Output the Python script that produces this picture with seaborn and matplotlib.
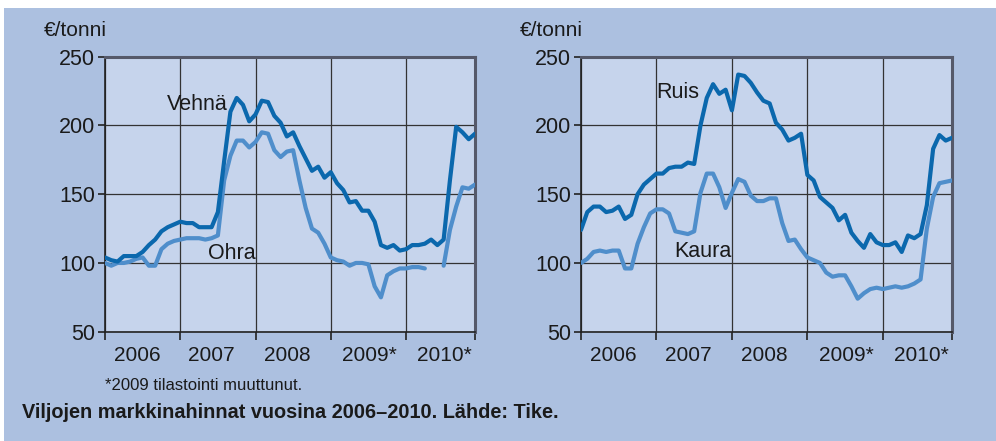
import numpy as np
import pandas as pd
import matplotlib
matplotlib.use("Agg")
import matplotlib.pyplot as plt
import seaborn as sns

# ---- data (monthly, Jan 2006 = 0) ----
months = list(range(60))
vehna = [104, 102, 101, 105, 105, 105, 108, 113, 117, 123, 126, 128, 130, 129, 129, 126, 126, 126,
         137, 174, 210, 220, 215, 203, 208, 218, 217, 207, 202, 192, 195, 185, 176, 167, 170, 162,
         166, 158, 153, 144, 145, 138, 138, 130, 113, 111, 113, 109, 110, 113, 113, 114, 117, 113,
         117, 160, 199, 195, 190, 194]
ohra = [100, 98, 100, 100, 101, 103, 104, 98, 98, 110, 114, 116, 117, 118, 118, 118, 117, 118,
        120, 160, 178, 189, 189, 184, 188, 195, 194, 182, 177, 181, 182, 160, 140, 125, 122, 114,
        104, 102, 101, 98, 100, 100, 99, 83, 75, 91, 94, 96, 96, 97, 97, 96, np.nan, np.nan,
        98, 124, 141, 155, 154, 157]
ruis = [124, 137, 141, 141, 137, 138, 141, 132, 135, 150, 157, 161, 165, 165, 169, 170, 170, 173,
        172, 200, 220, 230, 223, 226, 211, 237, 236, 231, 224, 218, 216, 202, 197, 189, 191, 194,
        164, 160, 148, 144, 140, 131, 135, 122, 116, 111, 121, 115, 113, 113, 115, 108, 120, 118,
        121, 142, 183, 193, 189, 191]
kaura = [100, 103, 108, 109, 108, 109, 109, 96, 96, 114, 126, 136, 139, 139, 136, 123, 122, 121,
         123, 151, 165, 165, 155, 140, 151, 161, 159, 149, 145, 145, 147, 147, 129, 116, 117, 110,
         104, 102, 100, 93, 90, 91, 91, 83, 74, 78, 81, 82, 81, 82, 83, 82, 83, 85, 88, 125, 148,
         158, 159, 160]

year_labels = ["2006", "2007", "2008", "2009*", "2010*"]
year_label_pos = [5.1, 17.0, 29.1, 42.2, 54.1]
year_ticks = [0, 12, 24, 36, 48, 59]
y_ticks = [50, 100, 150, 200, 250]

unit_label = "€/tonni"
footnote = "*2009 tilastointi muuttunut."
caption = "Viljojen markkinahinnat vuosina 2006–2010. Lähde: Tike."

DARK = "#0b68ad"
LIGHT = "#4f8ecb"
FIG_BG = "#acc0e0"
AX_BG = "#c6d4ec"

sns.set_theme(style="white")
FONT = ["Liberation Sans", "DejaVu Sans"]
plt.rcParams["font.family"] = FONT

fig = plt.figure(figsize=(9.96, 4.41), dpi=100, facecolor="white")
bg = plt.Rectangle((4 / 996, 0), 1, 1 - 8 / 441, transform=fig.transFigure,
                   facecolor=FIG_BG, edgecolor="none", zorder=-10)
fig.patches.append(bg)

ax1 = fig.add_axes([105 / 996, 1 - 331.7 / 441, 370 / 996, 275 / 441])
ax2 = fig.add_axes([581 / 996, 1 - 331.7 / 441, 371 / 996, 275 / 441])


def segments(x, y):
    df = pd.DataFrame({"x": x, "y": y})
    df["seg"] = df["y"].isna().cumsum()
    df = df.dropna()
    return df


def draw(ax, dark_vals, light_vals, dark_name, light_name, dark_pos, light_pos):
    ax.set_facecolor(AX_BG)
    dfl = segments(months, light_vals)
    for _, part in dfl.groupby("seg"):
        sns.lineplot(data=part, x="x", y="y", ax=ax, color=LIGHT, lw=3.0, zorder=3)
    dfd = segments(months, dark_vals)
    sns.lineplot(data=dfd, x="x", y="y", ax=ax, color=DARK, lw=3.0, zorder=4)
    ax.set_xlim(0, 59)
    ax.set_ylim(50, 250)
    ax.set_xlabel("")
    ax.set_ylabel("")
    ax.set_xticks(year_ticks)
    ax.set_xticklabels([])
    ax.set_xticks(year_label_pos, minor=True)
    ax.set_xticklabels(year_labels, minor=True, fontsize=15)
    ax.set_yticks(y_ticks)
    ax.set_yticklabels([str(v) for v in y_ticks], fontsize=15.5)
    ax.tick_params(axis="x", which="major", length=6, width=1.2, color="#222222",
                   direction="out", bottom=True)
    ax.tick_params(axis="x", which="minor", length=0, pad=10, labelcolor="#1a1a1a")
    ax.tick_params(axis="y", which="major", length=5, width=1.2, color="#222222",
                   direction="out", left=True, pad=2, labelcolor="#1a1a1a")
    ax.grid(True, which="major", color="#333333", lw=0.9)
    for s in ["top", "right"]:
        ax.spines[s].set_color("#55596a")
        ax.spines[s].set_linewidth(2.2)
    for s in ["left", "bottom"]:
        ax.spines[s].set_color("#222222")
        ax.spines[s].set_linewidth(1.2)
    ax.text(dark_pos[0], dark_pos[1], dark_name, fontsize=15.5, color="#1a1a1a",
            ha="center", va="center", zorder=5)
    ax.text(light_pos[0], light_pos[1], light_name, fontsize=15.5, color="#1a1a1a",
            ha="center", va="center", zorder=5)


draw(ax1, vehna, ohra, "Vehnä", "Ohra", (14.7, 215), (20.2, 107))
draw(ax2, ruis, kaura, "Ruis", "Kaura", (15.4, 224), (19.4, 108))

fig.text(44 / 996, 1 - 30 / 441, unit_label, fontsize=15, ha="left", va="center", color="#1a1a1a")
fig.text(520 / 996, 1 - 30 / 441, unit_label, fontsize=15, ha="left", va="center", color="#1a1a1a")
fig.text(105 / 996, 1 - 385 / 441, footnote, fontsize=12, ha="left", va="center", color="#1a1a1a")
fig.text(22 / 996, 1 - 413 / 441, caption, fontsize=14.3, fontweight="bold", ha="left",
         va="center", color="#1a1a1a")

fig.savefig("out.png", dpi=100, facecolor=fig.get_facecolor())
